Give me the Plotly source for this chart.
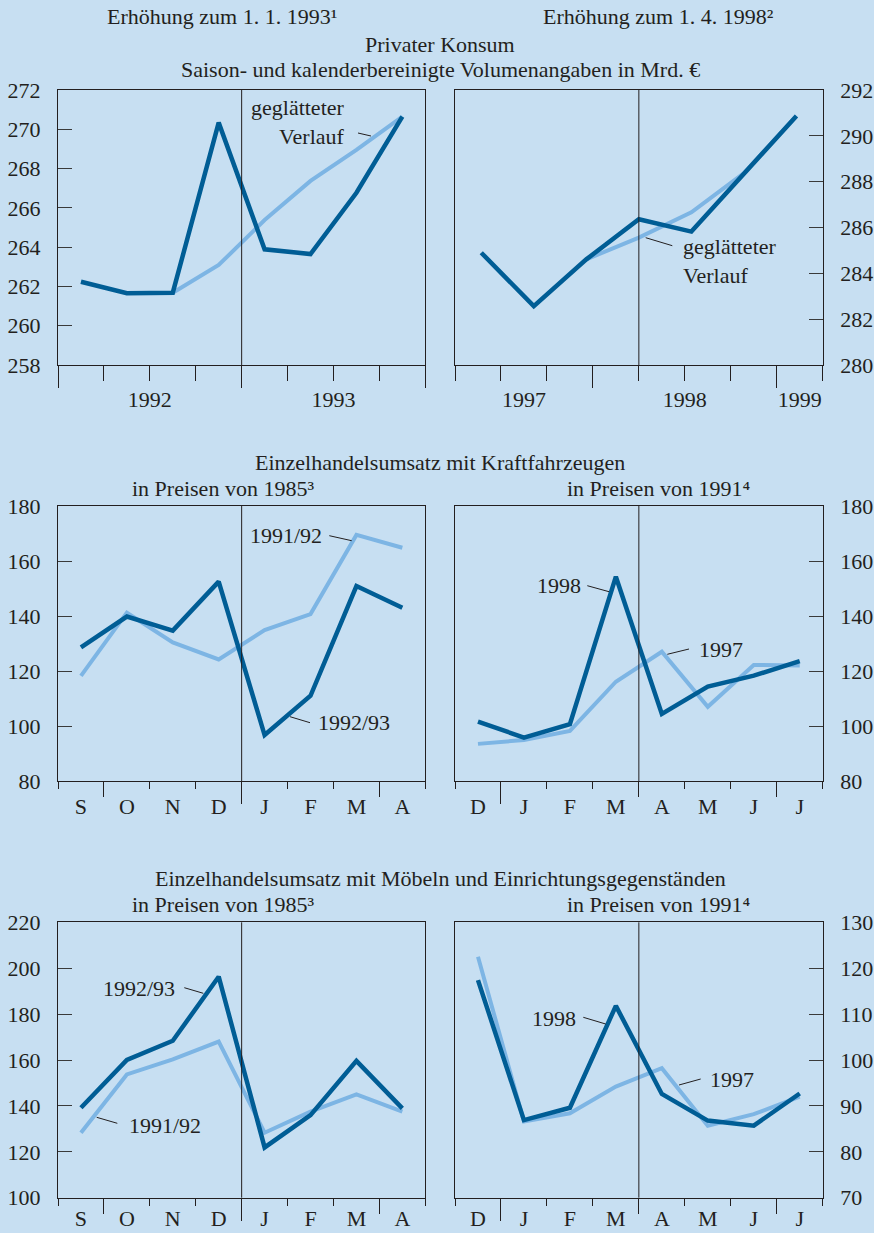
import plotly.graph_objects as go

W, H = 874, 1233
BG = "#c7dff2"
DARK = "#005d95"
LIGHT = "#7db5e4"
INK = "#231f20"
TICKC = "#3a3a3a"
FONT = "Liberation Serif, Times New Roman, serif"
FS = 22

# ---------------- data ----------------
# Privater Konsum (Mrd. EUR), quarterly
konsum_9293 = [262.24, 261.65, 261.68, 270.34, 263.89, 263.65, 266.77, 270.64]
konsum_9293_smooth = [None, None, 261.68, 263.09, 265.38, 267.37, 268.95, 270.64]
konsum_9799 = [284.90, 282.57, 284.61, 286.36, 285.82, 288.37, 290.87]
konsum_9799_smooth = [None, None, 284.61, 285.56, 286.66, 288.37, 290.87]
years_left = ["1992", "1993"]
years_right = ["1997", "1998", "1999"]

# Einzelhandelsumsatz mit Kraftfahrzeugen
months_left = ["S", "O", "N", "D", "J", "F", "M", "A"]
months_right = ["D", "J", "F", "M", "A", "M", "J", "J"]
kfz_9192 = [118.2, 141.2, 130.4, 124.2, 134.9, 140.7, 169.5, 164.8]
kfz_9293 = [128.6, 139.8, 134.7, 152.5, 96.7, 111.0, 150.9, 143.0]
kfz_1997 = [93.5, 94.9, 98.2, 116.1, 127.0, 107.0, 122.2, 122.0]
kfz_1998 = [101.6, 95.8, 100.7, 154.3, 104.4, 114.3, 118.3, 123.6]

# Einzelhandelsumsatz mit Moebeln und Einrichtungsgegenstaenden
moe_9192 = [128.3, 153.7, 160.3, 168.0, 128.3, 137.5, 145.0, 137.5]
moe_9293 = [139.2, 160.0, 168.4, 196.3, 121.9, 136.0, 159.6, 138.9]
moe_1997 = [122.5, 86.6, 88.4, 94.2, 98.2, 85.7, 88.2, 92.0]
moe_1998 = [117.4, 86.9, 89.6, 111.8, 92.6, 86.8, 85.7, 92.7]

# ---------------- layout geometry (pixels) ----------------
col_x = [(58, 425.3), (455, 822.7)]
row_y = [(90, 365), (506, 781), (922.3, 1197.7)]
DIVIDER = 4  # boundary of the tax increase on the 0..8 tick grid


def px(x):
    return x / W


def py(y):
    return 1 - y / H


mid = [0.5 + i for i in range(8)]
panels = [
    dict(col=0, row=0, yr=[258, 272], yt=list(range(258, 273, 2)),
         series=[(konsum_9293_smooth, LIGHT, 4), (konsum_9293, DARK, 4.5)],
         long=[0, 4, 8], med=[1, 2, 3, 5, 6, 7], short=[],
         labpos=[2, 6], labels=years_left, lab_off=19),
    dict(col=1, row=0, yr=[280, 292], yt=list(range(280, 293, 2)),
         series=[(konsum_9799_smooth, LIGHT, 4), (konsum_9799, DARK, 4.5)],
         long=[3, 7], med=[0, 1, 2, 4, 5, 6, 8], short=[],
         labpos=[1.5, 5, 7.5], labels=years_right, lab_off=19),
    dict(col=0, row=1, yr=[80, 180], yt=list(range(80, 181, 20)),
         series=[(kfz_9192, LIGHT, 4), (kfz_9293, DARK, 4.5)],
         long=[4], med=[1, 7], short=[0, 2, 3, 5, 6, 8],
         labpos=mid, labels=months_left, lab_off=10),
    dict(col=1, row=1, yr=[80, 180], yt=list(range(80, 181, 20)),
         series=[(kfz_1997, LIGHT, 4), (kfz_1998, DARK, 4.5)],
         long=[1], med=[4, 7], short=[0, 2, 3, 5, 6, 8],
         labpos=mid, labels=months_right, lab_off=10),
    dict(col=0, row=2, yr=[100, 220], yt=list(range(100, 221, 20)),
         series=[(moe_9192, LIGHT, 4), (moe_9293, DARK, 4.5)],
         long=[4], med=[1, 7], short=[0, 2, 3, 5, 6, 8],
         labpos=mid, labels=months_left, lab_off=5),
    dict(col=1, row=2, yr=[70, 130], yt=list(range(70, 131, 10)),
         series=[(moe_1997, LIGHT, 4), (moe_1998, DARK, 4.5)],
         long=[1], med=[4, 7], short=[0, 2, 3, 5, 6, 8],
         labpos=mid, labels=months_right, lab_off=5),
]

fig = go.Figure()
layout = {}
shapes = []
tfont = dict(family=FONT, size=FS, color=INK)

for k, p in enumerate(panels):
    n = k + 1
    xn = "x" if n == 1 else f"x{n}"
    yn = "y" if n == 1 else f"y{n}"
    xk = "xaxis" if n == 1 else f"xaxis{n}"
    yk = "yaxis" if n == 1 else f"yaxis{n}"
    t1 = n + 6
    t2 = n + 12
    c0, c1 = col_x[p["col"]]
    r0, r1 = row_y[p["row"]]
    npts = len(p["series"][0][0])
    for vals, color, width in p["series"]:
        fig.add_trace(go.Scatter(
            x=list(range(npts)), y=vals, mode="lines", xaxis=xn, yaxis=yn,
            line=dict(color=color, width=width), connectgaps=False,
            showlegend=False, hoverinfo="skip"))
    # empty traces so that the overlay tick/label axes are created
    for t in (t1, t2):
        fig.add_trace(go.Scatter(x=[None], y=[None], mode="lines",
                                 xaxis=f"x{t}", yaxis=yn,
                                 showlegend=False, hoverinfo="skip"))
    layout[xk] = dict(domain=[px(c0), px(c1)], range=[-0.5, npts - 0.5],
                      anchor=yn, showline=True, mirror=True, linecolor=INK,
                      linewidth=1.3, ticks="", showticklabels=False,
                      showgrid=False, zeroline=False, fixedrange=True,
                      automargin=False)
    right = p["col"] == 1
    layout[yk] = dict(domain=[py(r1), py(r0)], range=p["yr"], anchor=xn,
                      side="right" if right else "left",
                      tickvals=p["yt"], ticks="inside", ticklen=14,
                      tickwidth=1.3, tickcolor=TICKC, showline=True,
                      mirror=True, linecolor=INK, linewidth=1.3,
                      showgrid=False, zeroline=False, tickfont=tfont,
                      ticklabelstandoff=12, fixedrange=True,
                      automargin=False)
    layout[f"xaxis{t1}"] = dict(
        overlaying=xn, anchor=yn, range=[0, 8], tickvals=p["long"],
        ticks="outside", ticklen=22, tickwidth=1.3, tickcolor=INK,
        showticklabels=False, showline=False, showgrid=False,
        zeroline=False, fixedrange=True, automargin=False,
        minor=dict(tickvals=p["med"], ticks="outside", ticklen=15,
                   tickwidth=1.3, tickcolor=INK))
    ax2 = dict(
        overlaying=xn, anchor=yn, range=[0, 8], tickvals=p["labpos"],
        ticktext=p["labels"], ticks="", tickfont=tfont,
        showline=False, showgrid=False, zeroline=False, fixedrange=True,
        ticklabelstandoff=p["lab_off"], automargin=False)
    if p["short"]:
        ax2["minor"] = dict(tickvals=p["short"], ticks="outside", ticklen=7,
                            tickwidth=1.3, tickcolor=INK)
    layout[f"xaxis{t2}"] = ax2
    shapes.append(dict(type="line", xref=f"x{t1}", yref=f"{yn} domain",
                       x0=DIVIDER, x1=DIVIDER, y0=0, y1=1,
                       line=dict(color=INK, width=1)))

# ---------------- texts ----------------
titles = [
    ("Erhöhung zum 1. 1. 1993¹", 222, 17),
    ("Erhöhung zum 1. 4. 1998²", 658, 17),
    ("Privater Konsum", 440, 45),
    ("Saison- und kalenderbereinigte Volumenangaben in Mrd. €", 440, 70),
    ("Einzelhandelsumsatz mit Kraftfahrzeugen", 440, 462),
    ("in Preisen von 1985³", 223, 488),
    ("in Preisen von 1991⁴", 658, 488),
    ("Einzelhandelsumsatz mit Möbeln und Einrichtungsgegenständen", 440, 878),
    ("in Preisen von 1985³", 223, 904),
    ("in Preisen von 1991⁴", 658, 904),
]
annotations = []
for txt, x, y in titles:
    annotations.append(dict(text=txt, x=px(x), y=py(y), xref="paper",
                            yref="paper", xanchor="center", yanchor="middle",
                            showarrow=False, font=tfont))

# series labels: (text, x, y, anchor, leader line)
labels = [
    ("geglätteter<br>Verlauf", 347, 122.5, "right", (358, 133, 371, 136)),
    ("geglätteter<br>Verlauf", 681, 261, "left", (645.7, 237.7, 672.3, 245.7)),
    ("1991/92", 324, 535.7, "right", (329.3, 535.7, 351.7, 540.7)),
    ("1992/93", 316, 722.7, "left", (290, 716.7, 310, 722.7)),
    ("1998", 583, 585.7, "right", (587.3, 585.7, 609, 591.7)),
    ("1997", 697.3, 649.3, "left", (667.3, 654.3, 689, 649)),
    ("1992/93", 176.7, 988.3, "right", (184.3, 987.7, 203.3, 993.3)),
    ("1991/92", 126.7, 1125, "left", (96.7, 1117.3, 117.3, 1123.3)),
    ("1998", 578.3, 1018.3, "right", (583.3, 1017.3, 605.7, 1024)),
    ("1997", 708, 1079.3, "left", (679, 1085, 700.7, 1079)),
]
for txt, x, y, anc, ln in labels:
    annotations.append(dict(text=txt, x=px(x), y=py(y), xref="paper",
                            yref="paper", xanchor=anc, yanchor="middle",
                            align=anc, showarrow=False, font=tfont))
    if ln:
        shapes.append(dict(type="line", xref="paper", yref="paper",
                           x0=px(ln[0]), y0=py(ln[1]), x1=px(ln[2]),
                           y1=py(ln[3]), line=dict(color=INK, width=1)))

fig.update_layout(
    width=W, height=H, autosize=False,
    margin=dict(l=0, r=0, t=0, b=0, pad=0, autoexpand=False),
    paper_bgcolor=BG, plot_bgcolor=BG,
    font=tfont, showlegend=False,
    annotations=annotations, shapes=shapes,
    **layout,
)

fig.write_html("out.html", config={"displayModeBar": False},
               post_script="document.body.style.margin='0';")
